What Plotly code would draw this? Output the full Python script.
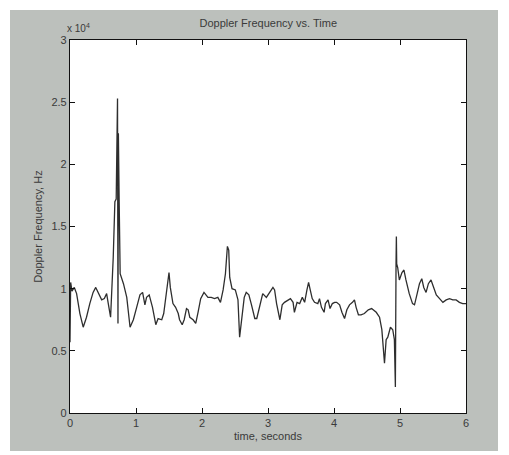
import plotly.graph_objects as go

# time in seconds
time_s = [0.00, 0.01, 0.03, 0.065, 0.10, 0.15, 0.20, 0.25, 0.30, 0.35, 0.39, 0.43, 0.48, 0.52,
          0.555, 0.58, 0.615, 0.655, 0.68, 0.70, 0.72, 0.727, 0.733, 0.745, 0.75, 0.76, 0.81,
          0.86, 0.91, 0.96, 1.01, 1.06, 1.10, 1.135, 1.16, 1.20, 1.25, 1.30, 1.335, 1.39, 1.42,
          1.46, 1.49, 1.50, 1.52, 1.56, 1.60, 1.64, 1.66, 1.70, 1.73, 1.765, 1.79, 1.815, 1.865,
          1.905, 1.94, 1.98, 2.03, 2.09, 2.14, 2.19, 2.24, 2.28, 2.32, 2.355, 2.385, 2.405, 2.42,
          2.455, 2.505, 2.545, 2.57, 2.60, 2.64, 2.67, 2.71, 2.75, 2.80, 2.83, 2.87, 2.92, 2.975,
          3.015, 3.075, 3.10, 3.13, 3.18, 3.215, 3.25, 3.30, 3.34, 3.38, 3.40, 3.44, 3.48, 3.52,
          3.555, 3.59, 3.615, 3.64, 3.67, 3.705, 3.755, 3.78, 3.81, 3.85, 3.87, 3.91, 3.94, 3.975,
          4.01, 4.04, 4.085, 4.12, 4.16, 4.195, 4.235, 4.28, 4.31, 4.335, 4.37, 4.41, 4.46, 4.52,
          4.57, 4.64, 4.69, 4.725, 4.74, 4.765, 4.79, 4.815, 4.855, 4.89, 4.915, 4.93, 4.94, 4.945,
          4.95, 4.965, 4.99, 5.03, 5.06, 5.09, 5.14, 5.19, 5.22, 5.26, 5.295, 5.33, 5.36, 5.395,
          5.43, 5.47, 5.51, 5.55, 5.60, 5.65, 5.70, 5.75, 5.80, 5.85, 5.90, 5.95, 6.00]

# Doppler frequency in units of 10^4 Hz
freq_e4 = [0.57, 1.05, 0.98, 1.01, 0.96, 0.80, 0.69, 0.77, 0.88, 0.97, 1.01, 0.96, 0.91, 0.92,
           0.96, 0.88, 0.77, 1.25, 1.70, 1.72, 2.53, 0.72, 2.25, 1.70, 1.20, 1.12, 1.04,
           0.93, 0.69, 0.75, 0.85, 0.95, 0.97, 0.87, 0.93, 0.95, 0.85, 0.71, 0.76, 0.75, 0.80,
           0.96, 1.12, 1.13, 1.01, 0.88, 0.85, 0.80, 0.75, 0.71, 0.75, 0.84, 0.83, 0.77, 0.75,
           0.72, 0.81, 0.92, 0.97, 0.93, 0.93, 0.92, 0.93, 0.89, 0.99, 1.12, 1.34, 1.31, 1.09,
           1.00, 0.99, 0.91, 0.61, 0.75, 0.93, 0.97, 0.95, 0.87, 0.76, 0.76, 0.85, 0.96, 0.93,
           0.96, 1.01, 0.99, 0.88, 0.75, 0.87, 0.89, 0.91, 0.92, 0.89, 0.81, 0.89, 0.88, 0.93,
           0.89, 0.99, 1.05, 0.99, 0.92, 0.89, 0.88, 0.92, 0.85, 0.81, 0.88, 0.91, 0.84, 0.88,
           0.89, 0.89, 0.87, 0.81, 0.76, 0.83, 0.87, 0.89, 0.91, 0.85, 0.79, 0.79, 0.80, 0.83,
           0.84, 0.81, 0.77, 0.67, 0.59, 0.40, 0.59, 0.61, 0.69, 0.67, 0.59, 0.21, 1.20, 1.42,
           1.20, 1.17, 1.07, 1.13, 1.15, 1.07, 0.96, 0.88, 0.87, 0.96, 1.04, 1.08, 1.01, 0.97,
           1.04, 1.07, 1.00, 0.95, 0.92, 0.89, 0.91, 0.92, 0.91, 0.91, 0.89, 0.88, 0.88]

x_ticks = [0, 1, 2, 3, 4, 5, 6]
x_tick_labels = ["0", "1", "2", "3", "4", "5", "6"]
y_ticks = [0, 0.5, 1, 1.5, 2, 2.5, 3]
y_tick_labels = ["0", "0.5", "1", "1.5", "2", "2.5", "3"]

TXT = "#3a3a3a"
FONT = "Liberation Sans"

fig = go.Figure()
fig.add_trace(go.Scatter(x=time_s, y=freq_e4, mode="lines",
                         line=dict(color="#2e2e2e", width=1.3),
                         showlegend=False, hoverinfo="skip"))

axis_common = dict(showline=True, linecolor="#111111", linewidth=1.2, mirror="ticks",
                   ticks="inside", ticklen=5, tickcolor="#111111", showgrid=False,
                   zeroline=False, tickfont=dict(family=FONT, size=11, color=TXT))

fig.update_layout(
    width=509, height=455,
    margin=dict(l=70, r=43, t=40, b=42),
    paper_bgcolor="white",
    plot_bgcolor="white",
    title=dict(text="Doppler Frequency vs. Time", x=0.527, xanchor="center",
               y=1 - 23 / 455, yanchor="middle",
               font=dict(family=FONT, size=11, color=TXT)),
    xaxis=dict(range=[0, 6], tickvals=x_ticks, ticktext=x_tick_labels,
               title=dict(text="time, seconds", font=dict(family=FONT, size=11, color=TXT),
                          standoff=4),
               **axis_common),
    yaxis=dict(range=[0, 3], tickvals=y_ticks, ticktext=y_tick_labels,
               title=dict(text="Doppler Frequency, Hz", font=dict(family=FONT, size=11, color=TXT),
                          standoff=6),
               **axis_common),
    shapes=[
        dict(type="rect", xref="paper", yref="paper", layer="below",
             x0=(10 - 70) / 396, x1=(498 - 70) / 396,
             y0=(413 - 451) / 373, y1=(413 - 10) / 373,
             fillcolor="#bcc0bc", line=dict(width=0)),
        dict(type="rect", xref="paper", yref="paper", layer="below",
             x0=0, x1=1, y0=0, y1=1, fillcolor="white", line=dict(width=0)),
    ],
    annotations=[
        dict(text="x 10<sup>4</sup>", xref="paper", yref="paper", x=-0.012, y=1.01,
             xanchor="left", yanchor="bottom", showarrow=False,
             font=dict(family=FONT, size=10, color=TXT)),
    ],
)

fig.write_html("out.html", config={"displayModeBar": False},
               post_script="document.body.style.margin='0';")
